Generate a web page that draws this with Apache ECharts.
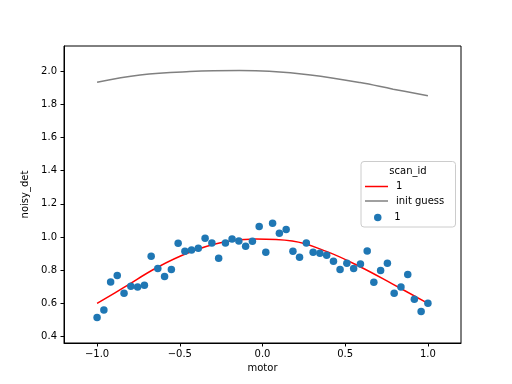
<!DOCTYPE html>
<html>
<head>
<meta charset="utf-8">
<script src="https://cdn.jsdelivr.net/npm/echarts@6/dist/echarts.min.js"></script>
<style>html,body{margin:0;padding:0;background:#fff}#c{width:512px;height:384px}</style>
</head>
<body>
<div id="c"></div>
<script>
// motor positions of the measured points
var motor = [-1.000,-0.959,-0.918,-0.878,-0.837,-0.796,-0.755,-0.714,-0.673,-0.633,
  -0.592,-0.551,-0.510,-0.469,-0.429,-0.388,-0.347,-0.306,-0.265,-0.224,
  -0.184,-0.143,-0.102,-0.061,-0.020,0.020,0.061,0.102,0.143,0.184,
  0.224,0.265,0.306,0.347,0.388,0.429,0.469,0.510,0.551,0.592,
  0.633,0.673,0.714,0.755,0.796,0.837,0.878,0.918,0.959,1.000];
// measured noisy_det values
var noisyDet = [0.516,0.560,0.729,0.769,0.661,0.703,0.699,0.709,0.884,0.811,
  0.763,0.805,0.962,0.914,0.922,0.932,0.992,0.964,0.872,0.964,
  0.988,0.976,0.944,0.974,1.064,0.908,1.083,1.022,1.046,0.914,
  0.878,0.964,0.908,0.902,0.890,0.854,0.805,0.842,0.811,0.837,
  0.916,0.727,0.799,0.842,0.661,0.699,0.775,0.625,0.552,0.601];
// best fit curve
var fitX = [-1.0,-0.84,-0.64,-0.44,-0.24,-0.04,0.18,0.39,0.59,0.79,1.0];
var fitY = [0.601,0.695,0.815,0.908,0.968,0.988,0.976,0.912,0.821,0.715,0.601];
// initial guess curve
var guessX = [-1.0,-0.74,-0.44,-0.14,0.04,0.29,0.59,0.79,1.0];
var guessY = [1.932,1.976,1.996,2.002,1.998,1.976,1.930,1.890,1.851];
// ticks
var xTicks = [-1.0,-0.5,0.0,0.5,1.0];
var yTicks = [0.4,0.6,0.8,1.0,1.2,1.4,1.6,1.8,2.0];
var legendLabels = {fit:'1', guess:'init guess', data:'1'};
var legendTitle = 'scan_id';

function zip(a,b){return a.map(function(v,i){return [v,b[i]];});}
var font = 'DejaVu Sans';
var chart = echarts.init(document.getElementById('c'), null, {renderer:'canvas'});
chart.setOption({
  animation:false,
  backgroundColor:'#fff',
  grid:{left:64,right:51,top:46,bottom:41,show:true,borderColor:'#000',borderWidth:1,backgroundColor:'transparent'},
  xAxis:{type:'value',min:-1.2,max:1.2,name:'motor',nameLocation:'middle',nameGap:20,
    nameTextStyle:{fontFamily:font,fontSize:10,color:'#000'},
    axisLine:{show:true,onZero:false,lineStyle:{color:'#000',width:1}},
    axisTick:{show:true,length:3.5,customValues:xTicks,lineStyle:{color:'#000'}},
    axisLabel:{customValues:xTicks,margin:6,fontFamily:font,fontSize:10,color:'#000',
      formatter:function(v){return (v<0?'\u2212':'')+Math.abs(v).toFixed(1);}},
    splitLine:{show:false}},
  yAxis:{type:'value',min:0.362,max:2.15,name:'noisy_det',nameLocation:'middle',nameGap:29,nameRotate:90,
    nameTextStyle:{fontFamily:font,fontSize:10,color:'#000'},
    axisLine:{show:true,onZero:false,lineStyle:{color:'#000',width:1}},
    axisTick:{show:true,length:3.5,customValues:yTicks,lineStyle:{color:'#000'}},
    axisLabel:{customValues:yTicks,margin:7,fontFamily:font,fontSize:10,color:'#000',
      formatter:function(v){return v.toFixed(1);}},
    splitLine:{show:false}},
  legend:[
    {orient:'vertical',left:365,top:181.5,padding:0,itemGap:4.5,itemWidth:23,itemHeight:1.5,icon:'rect',
     textStyle:{fontFamily:font,fontSize:10,color:'#000',padding:[0,0,0,3]},
     formatter:function(n){return legendLabels[n];},
     data:[{name:'fit'},{name:'guess'}]},
    {orient:'vertical',left:374,top:212.5,padding:0,itemGap:3,itemWidth:23,itemHeight:7.5,icon:'circle',
     textStyle:{fontFamily:font,fontSize:10,color:'#000',padding:[0,0,0,0]},
     formatter:function(n){return legendLabels[n];},
     data:[{name:'data'}]}
  ],
  graphic:[
    {type:'rect',x:361,y:161.5,z:-1,shape:{width:94.5,height:65.5,r:3},
     style:{fill:'rgba(255,255,255,0.8)',stroke:'#cccccc',lineWidth:1}},
    {type:'text',x:408,y:171.5,style:{text:legendTitle,align:'center',verticalAlign:'middle',
      font:'10px "DejaVu Sans"',fill:'#000'}}
  ],
  series:[
    {name:'fit',type:'line',data:zip(fitX,fitY),showSymbol:false,symbol:'none',smooth:0.4,
     lineStyle:{color:'#ff0000',width:1.5},itemStyle:{color:'#ff0000'},z:3},
    {name:'guess',type:'line',data:zip(guessX,guessY),showSymbol:false,symbol:'none',smooth:0.4,
     lineStyle:{color:'#808080',width:1.5},itemStyle:{color:'#808080'},z:3},
    {name:'data',type:'scatter',data:zip(motor,noisyDet),symbol:'circle',symbolSize:7.5,
     itemStyle:{color:'#1f77b4',opacity:1},z:4}
  ]
});
</script>
</body>
</html>
